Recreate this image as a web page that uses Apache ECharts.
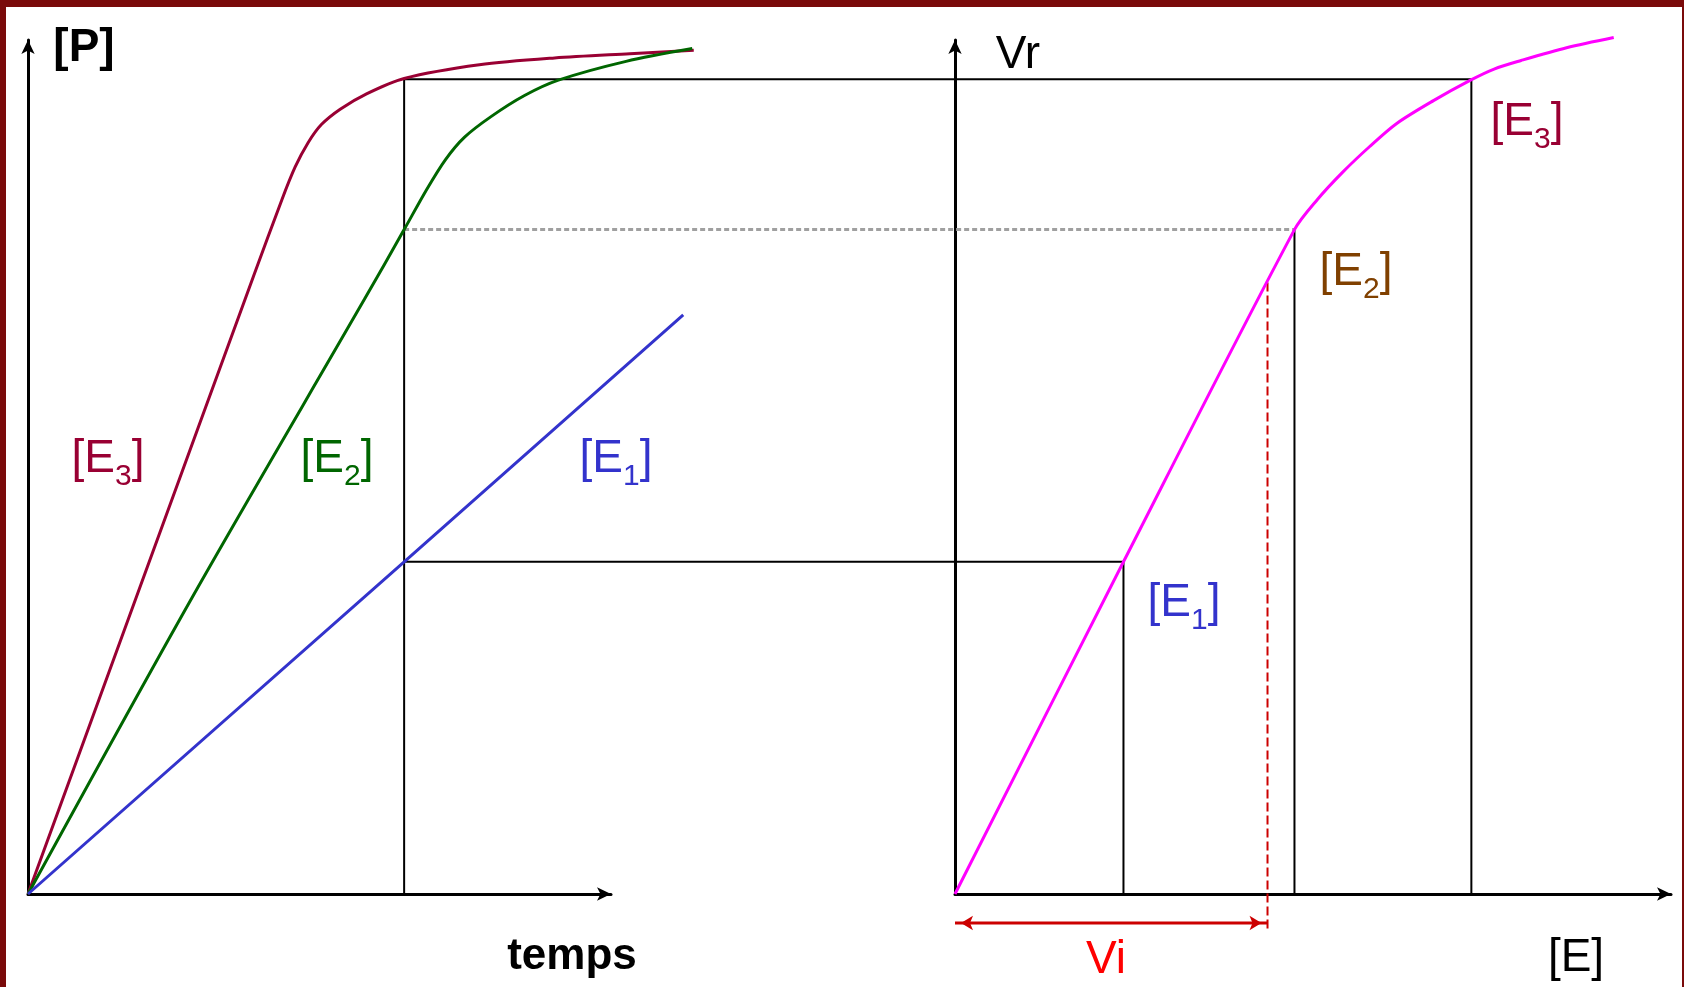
<!DOCTYPE html>
<html lang="fr">
<head>
<meta charset="UTF-8" />
<title>Vitesse initiale et concentration en enzyme</title>
<script src="https://cdn.jsdelivr.net/npm/echarts@6/dist/echarts.min.js"></script>
<style>
* { padding: 0; margin: 0; }
body { background: #7a0a0a; }
</style>
</head>
<body>
<div id="main" style="width:1684px;height:987px"></div>
<script>
// gauche : [P] en fonction du temps pour trois concentrations d'enzyme
var tStar = 10
var curveE1 = [[0, 0], [10, 38.9], [17.42, 67.8]]
var curveE2 = [[0, 0], [4.36, 34.7], [8.94, 69.6], [10, 77.8], [10.6, 82.5], [11.1, 86], [11.6, 88.6], [12.3, 91], [13.2, 93.5], [14.1, 95.3], [15.9, 97.5], [17.66, 99]]
var curveE3 = [[0, 0], [3, 36.2], [6, 72.4], [6.75, 81.3], [7.1, 85.1], [7.45, 88], [7.8, 90.1], [8.3, 91.9], [9, 93.7], [10, 95.5], [12, 97.1], [14, 97.9], [16, 98.4], [17.7, 98.8]]

// droite : Vr en fonction de [E]
var concE = [10, 20.15, 30.65]
var vitE = [38.9, 77.8, 95.4]
var curveVr = [[0, 0], [10, 38.9], [20.15, 77.8], [21.5, 81.3], [23, 84.5], [24.6, 87.5], [26.2, 90.2], [28.4, 92.9], [30.6, 95.3], [32, 96.6], [33.6, 97.6], [36.3, 99.1], [39.1, 100.3]]
var eVi = 18.55
var vVi = 71.6

var FONT = '"Liberation Sans", Arial, sans-serif'
var C3 = "#990033", C2 = "#006600", C1 = "#3333cc", C2b = "#804000"

function eText(n) {
	return "{b|[E}{s|" + n + "}{b|]}"
}
var richE = {
	b: { fontSize: 46, fontFamily: FONT, lineHeight: 46 },
	s: { fontSize: 30, fontFamily: FONT, height: 10, lineHeight: 10, verticalAlign: "bottom" }
}
function label(x, y, text, color, extra) {
	var style = { text: text, fill: color, align: "center", verticalAlign: "middle", rich: richE, fontFamily: FONT, fontSize: 46 }
	for (var k in extra) style[k] = extra[k]
	return { type: "text", x: x, y: y, silent: true, style: style }
}

function axisX(idx, max, hidden) {
	return {
		type: "value", gridIndex: idx, min: 0, max: max, show: !hidden,
		axisLine: { symbol: ["none", "arrow"], symbolSize: [10, 14], lineStyle: { color: "#000", width: 3 } },
		axisTick: { show: false }, axisLabel: { show: false }, splitLine: { show: false }
	}
}
function axisY(idx, hidden) {
	return {
		type: "value", gridIndex: idx, min: 0, max: 100, show: !hidden,
		axisLine: { symbol: ["none", "arrow"], symbolSize: [10, 14], lineStyle: { color: "#000", width: 3 } },
		axisTick: { show: false }, axisLabel: { show: false }, splitLine: { show: false }
	}
}
function line(grid, data, color, width, z, type) {
	return {
		type: "line", xAxisIndex: grid, yAxisIndex: grid, data: data,
		showSymbol: false, symbol: "none", clip: false, z: z, silent: true,
		lineStyle: { color: color, width: width, type: type || "solid" }
	}
}
function curve(grid, data, color) {
	var s = line(grid, data, color, 3, 5)
	s.smooth = 0.3
	return s
}

// grille 2 : même échelle que la grille 0 mais plus large (les courbes dépassent la flèche)
var series = [
	curve(2, curveE3, C3),
	curve(2, curveE2, C2),
	line(2, curveE1, C1, 3, 5),
	line(2, [[tStar, 0], [tStar, vitE[2]]], "#000", 2, 2),
	curve(1, curveVr, "#ff00ff"),
	line(1, [[concE[0], 0], [concE[0], vitE[0]]], "#000", 2, 2),
	line(1, [[concE[1], 0], [concE[1], vitE[1]]], "#000", 2, 2),
	line(1, [[concE[2], 0], [concE[2], vitE[2]]], "#000", 2, 2),
	line(1, [[eVi, vVi], [eVi, -4.2]], "#cc0000", 2, 3, [9, 4]),
	{
		type: "line", xAxisIndex: 1, yAxisIndex: 1, clip: false, silent: true, z: 3,
		symbol: "arrow", symbolSize: [11, 12], showSymbol: true,
		itemStyle: { color: "#cc0000" },
		lineStyle: { color: "#cc0000", width: 3 },
		data: [
			{ value: [0, -3.4], symbolRotate: 90, symbolOffset: [6, 0] },
			{ value: [eVi, -3.4], symbolRotate: -90, symbolOffset: [-6, 0] }
		]
	}
]

var option = {
	animation: false,
	backgroundColor: "#7a0a0a",
	grid: [
		{ left: 28, top: 40, width: 583, height: 854 },
		{ left: 955, top: 40, width: 716, height: 854 },
		{ left: 28, top: 40, width: 1655, height: 854 }
	],
	xAxis: [axisX(0, 15.5), axisX(1, 42.5), axisX(2, 44, true)],
	yAxis: [axisY(0), axisY(1), axisY(2, true)],
	graphic: [
		{ type: "rect", silent: true, z: -100, shape: { x: 6, y: 7, width: 1676, height: 980 }, style: { fill: "#fff" } },
		label(84, 48, "[P]", "#000", { fontWeight: "bold", rich: null }),
		label(572, 957, "temps", "#000", { fontWeight: "bold", fontSize: 44, rich: null }),
		label(1018, 55, "Vr", "#000", { rich: null }),
		label(1106, 960, "Vi", "#ff0000", { rich: null }),
		label(1576, 958, "[E]", "#000", { rich: null }),
		label(108, 459, eText(3), C3),
		label(337, 459, eText(2), C2),
		label(616, 459, eText(1), C1),
		label(1527, 122, eText(3), C3),
		label(1356, 272, eText(2), C2b),
		label(1184, 603, eText(1), C1)
	],
	series: series
}

var myChart = echarts.init(document.getElementById("main"))
myChart.setOption(option)

// traits horizontaux reliant t* (gauche) aux points [Ei] (droite), passés par les deux échelles
var links = [
	{ e: concE[2], v: vitE[2], color: "#000", type: "solid" },
	{ e: concE[1], v: vitE[1], color: "#a0a0a0", type: [5, 3] },
	{ e: concE[0], v: vitE[0], color: "#000", type: "solid" }
]
var extra = links.map(function(l) {
	var px = myChart.convertToPixel({ xAxisIndex: 1 }, l.e)
	var xEnd = myChart.convertFromPixel({ xAxisIndex: 2 }, px)
	return line(2, [[tStar, l.v], [xEnd, l.v]], l.color, l.color === "#000" ? 2 : 3, 1, l.type)
})
myChart.setOption({ series: series.concat(extra) })
</script>
</body>
</html>
